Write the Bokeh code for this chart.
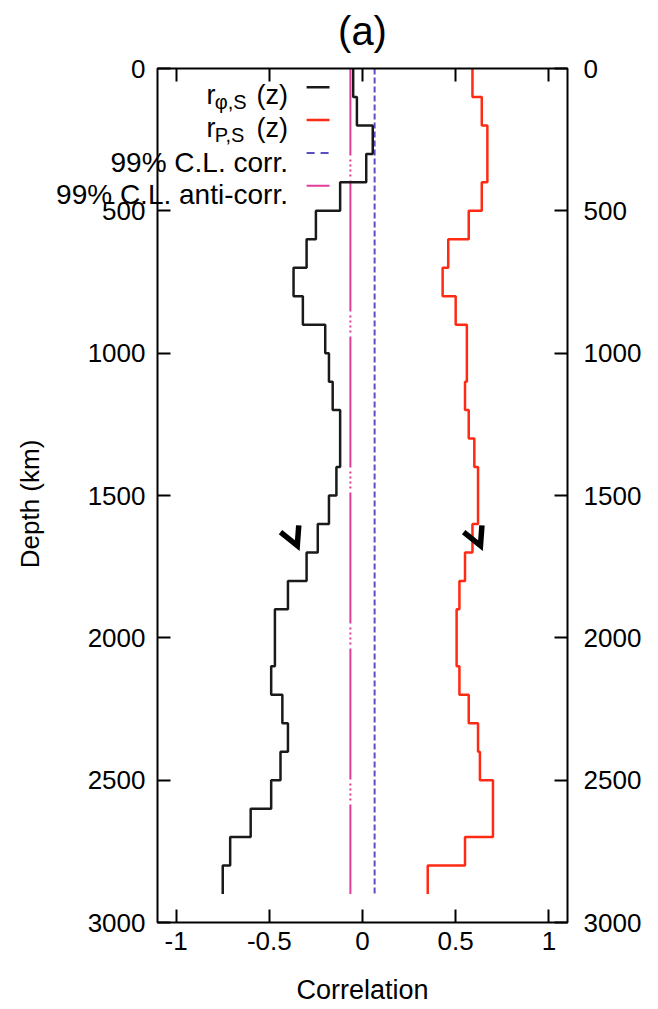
from bokeh.plotting import figure
from bokeh.models import Range1d, FixedTicker, LinearAxis, BoxAnnotation
from bokeh.core.properties import value
from bokeh.embed import file_html
from bokeh.resources import INLINE

# ---------------- data ----------------
layer_top_km = [0, 100, 200, 300, 400, 500, 600, 700, 800, 900, 1000, 1100, 1200, 1300, 1400,
                1500, 1600, 1700, 1800, 1900, 2000, 2100, 2200, 2300, 2400, 2500, 2600, 2700, 2800]
layer_bottom_km = [100, 200, 300, 400, 500, 600, 700, 800, 900, 1000, 1100, 1200, 1300, 1400, 1500,
                   1600, 1700, 1800, 1900, 2000, 2100, 2200, 2300, 2400, 2500, 2600, 2700, 2800, 2900]
r_phi_s = [-0.05, -0.03, 0.055, 0.02, -0.12, -0.25, -0.30, -0.37, -0.32, -0.20, -0.18, -0.16, -0.12,
           -0.12, -0.14, -0.18, -0.24, -0.30, -0.40, -0.47, -0.47, -0.49, -0.43, -0.40, -0.44, -0.49,
           -0.60, -0.71, -0.75]
r_p_s = [0.59, 0.64, 0.67, 0.67, 0.64, 0.57, 0.46, 0.43, 0.50, 0.56, 0.56, 0.55, 0.57, 0.60, 0.62,
         0.62, 0.59, 0.55, 0.52, 0.505, 0.505, 0.52, 0.57, 0.62, 0.63, 0.70, 0.70, 0.55, 0.35]
cl_corr = 0.065
cl_anticorr = -0.065
cl_depth = [0, 2900]

x_ticks = [-1, -0.5, 0, 0.5, 1]
x_tick_labels = ["-1", "-0.5", "0", "0.5", "1"]
depth_ticks = [0, 500, 1000, 1500, 2000, 2500, 3000]
depth_tick_labels = ["0", "500", "1000", "1500", "2000", "2500", "3000"]

legend_labels = ["99% C.L. corr.", "99% C.L. anti-corr."]

# hand-drawn check marks (tip position, in data units)
mark_tip_x = [-0.35, 0.633]
mark_tip_depth = [1676, 1676]

# ---------------- layout / style ----------------
FONT = "Liberation Sans"
BLACK = "#1a1a1a"
RED = "#ff2a14"
BLUE = "#5a4ec8"
PINK = "#e23c9a"

X_MIN, X_MAX = -1.1, 1.1          # plotted box
D_MIN, D_MAX = 0, 3000
BOX_LEFT, BOX_TOP, BOX_W, BOX_H = 157, 68, 410, 854   # box position in the page, px
FIG_W, FIG_H = 650, 1007

px_x = BOX_W / (X_MAX - X_MIN)
px_d = BOX_H / (D_MAX - D_MIN)
x_range = Range1d(X_MIN - BOX_LEFT / px_x, X_MAX + (FIG_W - BOX_LEFT - BOX_W) / px_x)
y_range = Range1d(D_MAX + (FIG_H - BOX_TOP - BOX_H) / px_d, D_MIN - BOX_TOP / px_d)


def step_path(values):
    xs, ys = [], []
    for v, t, b in zip(values, layer_top_km, layer_bottom_km):
        xs += [v, v]
        ys += [t, b]
    return xs, ys


p = figure(frame_width=FIG_W, frame_height=FIG_H, min_border=0,
           x_range=x_range, y_range=y_range,
           output_backend="svg", toolbar_location=None)
p.background_fill_color = "white"
p.border_fill_color = "white"
p.xgrid.visible = False
p.ygrid.visible = False
p.outline_line_color = None

p.add_layout(BoxAnnotation(left=X_MIN, right=X_MAX, top=D_MIN, bottom=D_MAX,
                           fill_alpha=0, line_color="black", line_alpha=1, line_width=2))


def style_axis(ax, ticks, labels, loc, show_labels=True):
    ax.fixed_location = loc
    ax.ticker = FixedTicker(ticks=ticks)
    ax.major_label_overrides = {t: l for t, l in zip(ticks, labels)}
    ax.major_tick_in = 13
    ax.major_tick_out = 0
    ax.major_tick_line_width = 2
    ax.major_tick_line_color = "black"
    ax.minor_tick_line_color = None
    ax.axis_line_color = None
    ax.major_label_text_font = FONT
    ax.major_label_text_color = "black"
    ax.axis_label_text_font = FONT
    ax.axis_label_text_font_size = "26px"
    ax.axis_label_text_font_style = "normal"
    ax.axis_label_text_color = "black"
    if show_labels:
        ax.major_label_text_font_size = "26px"
    else:
        ax.major_label_text_font_size = "0px"
        ax.major_label_text_alpha = 0


style_axis(p.xaxis[0], x_ticks, x_tick_labels, D_MAX)
p.xaxis[0].major_label_standoff = 9

style_axis(p.yaxis[0], depth_ticks, depth_tick_labels, X_MIN)
p.yaxis[0].major_label_standoff = 12
p.yaxis[0].axis_label = "Depth (km)"
p.yaxis[0].axis_label_standoff = 40

right_axis = LinearAxis()
style_axis(right_axis, depth_ticks, depth_tick_labels, X_MAX)
right_axis.major_label_standoff = 16
p.add_layout(right_axis, "right")

top_axis = LinearAxis()
style_axis(top_axis, x_ticks, x_tick_labels, D_MIN, show_labels=False)
p.add_layout(top_axis, "above")

txt = dict(text_font=value(FONT), text_color="black")

# panel title and x-axis title, centred on the box
p.text(x=[0], y=[D_MIN - 38 / px_d], text=["(a)"], text_align="center", text_baseline="middle",
       text_font_size="40px", **txt)
p.text(x=[0], y=[D_MAX + 67 / px_d], text=["Correlation"], text_align="center",
       text_baseline="middle", text_font_size="27px", **txt)

# confidence levels
p.line([cl_corr, cl_corr], cl_depth, line_color=BLUE, line_width=2, line_dash="6 3")
p.line([cl_anticorr, cl_anticorr], cl_depth, line_color=PINK, line_width=2,
       line_dash="131 4 2 3 2 3 2 3 2 4", line_dash_offset=44)

# correlation profiles
bx, by = step_path(r_phi_s)
p.line(bx, by, line_color=BLACK, line_width=2.5)
rx, ry = step_path(r_p_s)
p.line(rx, ry, line_color=RED, line_width=2.5)

# hand-drawn check marks
mark_dx = [-0.09, 0.0, 0.008]
mark_dd = [-47, 0, -71]
for tx, td in zip(mark_tip_x, mark_tip_depth):
    p.line([tx + d for d in mark_dx], [td + d for d in mark_dd], line_color="black",
           line_width=5.5, line_join="miter", line_cap="butt")

# legend (gnuplot style: label then sample)
row_depth = [66, 181, 297, 412]
sample_x = [-0.300, -0.177]
p.line(sample_x, [row_depth[0]] * 2, line_color=BLACK, line_width=2.5)
p.line(sample_x, [row_depth[1]] * 2, line_color=RED, line_width=2.5)
p.line(sample_x, [row_depth[2]] * 2, line_color=BLUE, line_width=2, line_dash="8 6")
p.line(sample_x, [row_depth[3]] * 2, line_color=PINK, line_width=2)

text_right = -0.400
for i, sub in enumerate(["φ,S", "P,S"]):
    p.text(x=[-0.837], y=[row_depth[i] + 8 / px_d], text=["r"], text_align="left",
           text_baseline="alphabetic", text_font_size="27px", **txt)
    p.text(x=[-0.793], y=[row_depth[i] + 15 / px_d], text=[sub], text_align="left",
           text_baseline="alphabetic", text_font_size="20px", **txt)
    p.text(x=[text_right], y=[row_depth[i] + 8 / px_d], text=["(z)"], text_align="right",
           text_baseline="alphabetic", text_font_size="27px", **txt)
for i, lab in enumerate(legend_labels):
    p.text(x=[text_right], y=[row_depth[i + 2] + 9 / px_d], text=[lab], text_align="right",
           text_baseline="alphabetic", text_font_size="28px", **txt)

open("out.html", "w").write(file_html(p, INLINE))
